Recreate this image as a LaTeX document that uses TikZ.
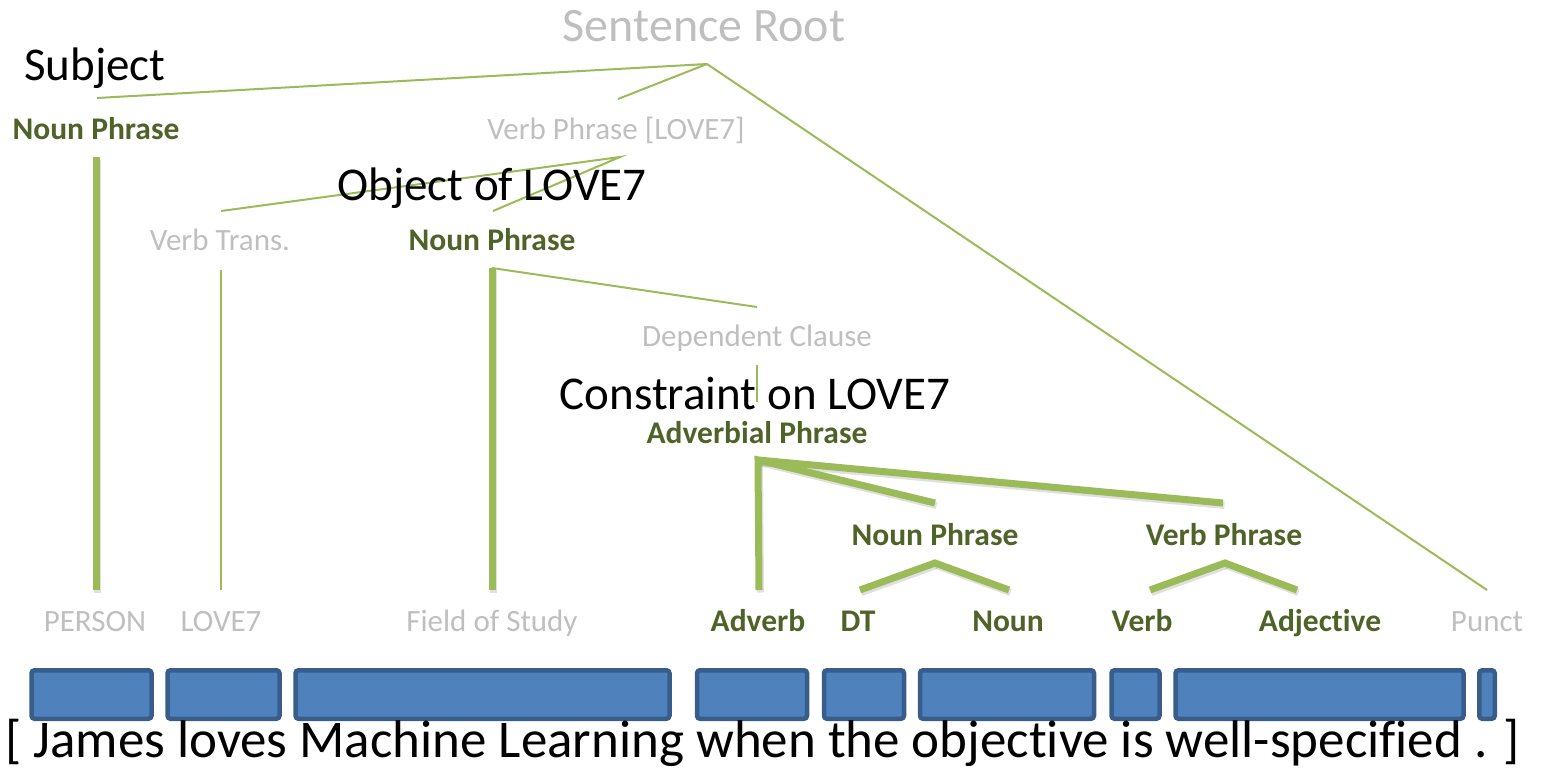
\documentclass[tikz,border=0pt]{standalone}
\usepackage{fontspec}
\setmainfont{Carlito}[Ligatures=CommonOff]
\definecolor{lgreen}{HTML}{9BBB59}
\definecolor{dgreen}{HTML}{4F6228}
\definecolor{lgray}{HTML}{BFBFBF}
\definecolor{bfill}{HTML}{4F81BD}
\definecolor{bborder}{HTML}{385D8A}
\tikzset{
  gl/.style={font=\fontsize{31.5}{36}\selectfont\bfseries, text=dgreen, anchor=base, inner sep=0pt},
  gy/.style={font=\fontsize{31}{36}\selectfont, text=lgray, anchor=base, inner sep=0pt},
  big/.style={font=\fontsize{47}{56}\selectfont, text=black, anchor=base, inner sep=0pt},
  thinln/.style={draw=lgreen, line width=2pt},
  thickln/.style={draw=lgreen, line width=7pt},
  shad/.style={draw=black, opacity=0.12, line width=7pt, transform canvas={shift={(1.5pt,-2.5pt)}}},
  tok/.style={draw=bborder, fill=bfill, line width=4.5pt, rounded corners=3pt, inner sep=0pt, minimum height=48.5pt}
}
\begin{document}
\begin{tikzpicture}[x=1pt,y=-1pt]
\useasboundingbox (0,0) rectangle (1543,771);
% labels
\node[gy, font=\fontsize{48}{56}\selectfont] (root) at (704,41) {Sentence Root};
\node[big] (subj) at (95,80) {Subject};
\node[gl] (np1) at (96,139) {Noun Phrase};
\node[gy] (vp1) at (616,139) {Verb Phrase [LOVE7]};
\node[gy] (vt) at (220,250) {Verb Trans.};
\node[gl] (np2) at (492,250) {Noun Phrase};
\node[gy] (dc) at (757,346) {Dependent Clause};
\node[gl] (advp) at (757,443) {Adverbial Phrase};
\node[gl] (np3) at (935,545) {Noun Phrase};
\node[gl] (vp3) at (1224,545) {Verb Phrase};
\node[gy] (person) at (95,631) {PERSON};
\node[gy] (love) at (221,631) {LOVE7};
\node[gy] (fos) at (492,631) {Field of Study};
\node[gl] (adv) at (758,631) {Adverb};
\node[gl] (dt) at (858,631) {DT};
\node[gl] (noun) at (1008,631) {Noun};
\node[gl] (verb) at (1142,631) {Verb};
\node[gl] (adj) at (1320,631) {Adjective};
\node[gy] (punct) at (1487,631) {Punct};
% coordinates
\coordinate (rootA) at (707,64);
\coordinate (subjE) at (97,98);
\coordinate (vp1E) at (618,99);
\coordinate (punctE) at (1487,590);
\coordinate (vp1A) at (620,157);
\coordinate (vtE) at (221,211);
\coordinate (np2E) at (493,211);
\coordinate (np1A) at (96,157);
\coordinate (np1B) at (96,590);
\coordinate (vtA) at (221,270);
\coordinate (vtB) at (221,590);
\coordinate (np2A) at (492,268);
\coordinate (np2B) at (492,590);
\coordinate (dcE) at (757,307);
\coordinate (dcA) at (757,365);
\coordinate (dcB) at (757,402);
\coordinate (advA) at (758,460);
\coordinate (advB) at (759,590);
\coordinate (np3E) at (935,503);
\coordinate (vp3E) at (1223,503);
\coordinate (np3A) at (935,563);
\coordinate (dtE) at (860,590);
\coordinate (nounE) at (1009,590);
\coordinate (vp3A) at (1225,563);
\coordinate (verbE) at (1150,590);
\coordinate (adjE) at (1297,590);
% thin connectors
\draw[thinln] (subjE) -- (rootA) -- (punctE);
\draw[thinln] (rootA) -- (vp1E);
\draw[thinln] (vtE) -- (vp1A) -- (np2E);
\draw[thinln] (vtA) -- (vtB);
\draw[thinln] (np2A) -- (dcE);
\draw[thinln, line width=1.5pt] (dcA) -- (dcB);
% thick connectors (with faint shadows)
\foreach \a/\b in {np1A/np1B, np2A/np2B, advA/advB, advA/np3E, advA/vp3E, np3A/dtE, np3A/nounE, vp3A/verbE, vp3A/adjE}
  \draw[shad] (\a) -- (\b);
\draw[thickln] (np1A) -- (np1B);
\draw[thickln] (np2A) -- (np2B);
\draw[thickln] (advB) -- (advA) -- (np3E);
\draw[thickln] (advA) -- (vp3E);
\draw[thickln] (dtE) -- (np3A) -- (nounE);
\draw[thickln] (verbE) -- (vp3A) -- (adjE);
% black labels drawn on top
\node[big] (obj) at (492,200) {Object of LOVE7};
\node[big] (cons) at (755,409) {Constraint on LOVE7};
% tokens
\node[tok, minimum width=120pt] (t1) at (91.5,694.5) {};
\node[tok, minimum width=112pt] (t2) at (223.5,694.5) {};
\node[tok, minimum width=374pt] (t3) at (482.5,694.5) {};
\node[tok, minimum width=110pt] (t4) at (752,694.5) {};
\node[tok, minimum width=80pt] (t5) at (864,694.5) {};
\node[tok, minimum width=174pt] (t6) at (1007,694.5) {};
\node[tok, minimum width=48pt] (t7) at (1135.5,694.5) {};
\node[tok, minimum width=288pt] (t8) at (1319.5,694.5) {};
\node[tok, minimum width=15.5pt] (t9) at (1487,694.5) {};
\node[big, font=\fontsize{53}{60}\selectfont, anchor=base west] (sent) at (5,757) {[ James loves Machine Learning when the objective is well-specified . ]};
\end{tikzpicture}
\end{document}
